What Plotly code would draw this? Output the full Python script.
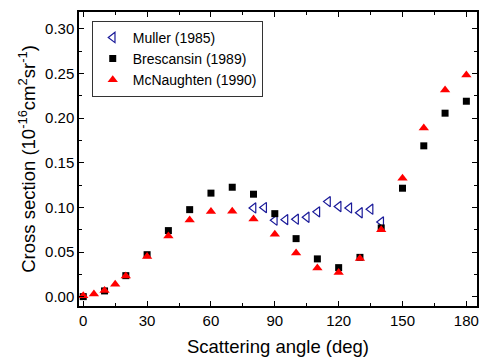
import plotly.graph_objects as go

# Differential cross sections vs scattering angle
muller_angle = [80, 85, 90, 95, 100, 105, 110, 115, 120, 125, 130, 135, 140]
muller_cs = [0.0994, 0.0998, 0.0857, 0.0863, 0.0868, 0.089, 0.095, 0.1065,
             0.101, 0.0994, 0.094, 0.098, 0.0837]

bres_angle = [0, 10, 20, 30, 40, 50, 60, 70, 80, 90, 100, 110, 120, 130,
              140, 150, 160, 170, 180]
bres_cs = [0.000, 0.0064, 0.0235, 0.047, 0.074, 0.0975, 0.116, 0.1226,
           0.1148, 0.093, 0.065, 0.0423, 0.0325, 0.044, 0.077, 0.1215,
           0.169, 0.2056, 0.219]

mcn_angle = [0, 5, 10, 15, 20, 30, 40, 50, 60, 70, 80, 90, 100, 110, 120,
             130, 140, 150, 160, 170, 180]
mcn_cs = [0.001, 0.003, 0.007, 0.014, 0.023, 0.045, 0.068, 0.086, 0.0953,
          0.0957, 0.087, 0.070, 0.049, 0.032, 0.027, 0.0426, 0.075, 0.1327,
          0.189, 0.2317, 0.2485]

x_ticks = [0, 30, 60, 90, 120, 150, 180]
y_ticks = [0.00, 0.05, 0.10, 0.15, 0.20, 0.25, 0.30]

FONT = "Liberation Sans, Arial"

fig = go.Figure()
fig.add_trace(go.Scatter(
    x=muller_angle, y=muller_cs, mode="markers", name="Muller (1985)",
    marker=dict(symbol="triangle-left-open", size=9, color="#1a1a99",
                line=dict(width=1.2, color="#1a1a99"))))
fig.add_trace(go.Scatter(
    x=bres_angle, y=bres_cs, mode="markers", name="Brescansin (1989)",
    marker=dict(symbol="square", size=7, color="black")))
fig.add_trace(go.Scatter(
    x=mcn_angle, y=mcn_cs, mode="markers", name="McNaughten (1990)",
    marker=dict(symbol="triangle-up", size=9, color="red")))

axis_common = dict(
    showline=True, linecolor="black", linewidth=1.5, mirror="ticks",
    ticks="inside", ticklen=5, tickwidth=1.2, tickcolor="black",
    showgrid=False, zeroline=False,
    tickfont=dict(family=FONT, size=15, color="black"),
)

fig.update_xaxes(
    range=[-2, 185], tickvals=x_ticks,
    ticktext=[str(v) for v in x_ticks],
    minor=dict(ticks="inside", ticklen=3, tickcolor="black", dtick=15,
               tick0=0, showgrid=False),
    title=dict(text="Scattering angle (deg)", standoff=12,
               font=dict(family=FONT, size=18.5, color="black")),
    **axis_common)
fig.update_yaxes(
    range=[-0.0105, 0.319], tickvals=y_ticks,
    ticktext=[f"{v:.2f}" for v in y_ticks],
    minor=dict(ticks="inside", ticklen=3, tickcolor="black", dtick=0.025,
               tick0=0, showgrid=False),
    title=dict(text="Cross section (10<sup>-16</sup>cm<sup>2</sup>sr<sup>-1</sup>)",
               standoff=5,
               font=dict(family=FONT, size=18.5, color="black")),
    **axis_common)

fig.update_layout(
    width=480, height=358,
    margin=dict(l=79, r=1, t=12, b=52),
    paper_bgcolor="white", plot_bgcolor="white",
    showlegend=True,
    legend=dict(x=0.032, y=0.97, xanchor="left", yanchor="top",
                bgcolor="white", bordercolor="#333333", borderwidth=1,
                font=dict(family=FONT, size=14, color="black"),
                tracegroupgap=0, itemwidth=30),
)

fig.write_html("out.html")
